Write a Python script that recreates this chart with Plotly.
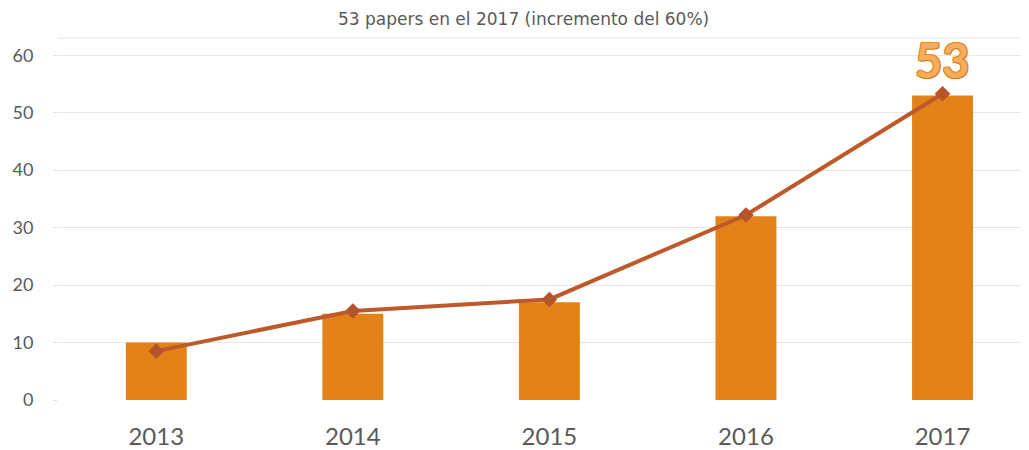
import plotly.graph_objects as go

years = ["2013", "2014", "2015", "2016", "2017"]
bar_values = [10, 15, 17, 32, 53]
line_values = [8.5, 15.5, 17.5, 32.2, 53.3]
y_ticks = [0, 10, 20, 30, 40, 50, 60]
title_text = "53 papers en el 2017 (incremento del 60%)"
highlight_label = "53"

fig = go.Figure()
fig.add_trace(go.Bar(
    x=list(range(len(years))), y=bar_values,
    marker=dict(color="#E4821A", line=dict(width=0)),
    width=0.31, hoverinfo="skip",
))
fig.add_trace(go.Scatter(
    x=list(range(len(years))), y=line_values, mode="lines+markers",
    line=dict(color="#BE5A2A", width=4),
    marker=dict(symbol="diamond", size=12, color="#B5532A"),
))
fig.add_annotation(
    x=len(years) - 1, y=59.2, text="<b>" + highlight_label + "</b>", showarrow=False,
    yanchor="middle",
    font=dict(family="Lato, Open Sans, sans-serif", size=47, color="#F6AE5A",
              shadow="1px 1px 0px #D9771A, -1px -1px 0px #E58A2A, 1px -1px 0px #E58A2A, -1px 1px 0px #E58A2A"),
)
fig.add_shape(type="line", xref="paper", yref="paper", x0=0, x1=1, y0=1, y1=1,
              line=dict(color="#E6E6E6", width=1))
fig.update_layout(
    width=1021, height=442,
    margin=dict(l=50, r=0, t=30, b=50, autoexpand=False),
    paper_bgcolor="white", plot_bgcolor="white",
    showlegend=False,
    title=dict(text=title_text, x=0.505, xanchor="center", y=0.976, yanchor="middle",
               font=dict(family="DejaVu Sans, sans-serif", size=17, color="#595959")),
    xaxis=dict(range=[-0.5, 4.44], tickmode="array", tickvals=list(range(len(years))),
               ticktext=years, showgrid=False, zeroline=False, showline=False,
               ticklabelstandoff=20,
               tickfont=dict(family="Lato, sans-serif", size=24, color="#595959")),
    yaxis=dict(range=[0, 63], tickmode="array", tickvals=y_ticks, showgrid=True,
               gridcolor="#E6E6E6", gridwidth=1, zeroline=False, showline=False,
               ticks="outside", ticklen=4, tickcolor="#E0E0E0",
               ticklabelstandoff=16,
               tickfont=dict(family="Lato, sans-serif", size=18, color="#595959")),
)
fig.write_html("out.html")
